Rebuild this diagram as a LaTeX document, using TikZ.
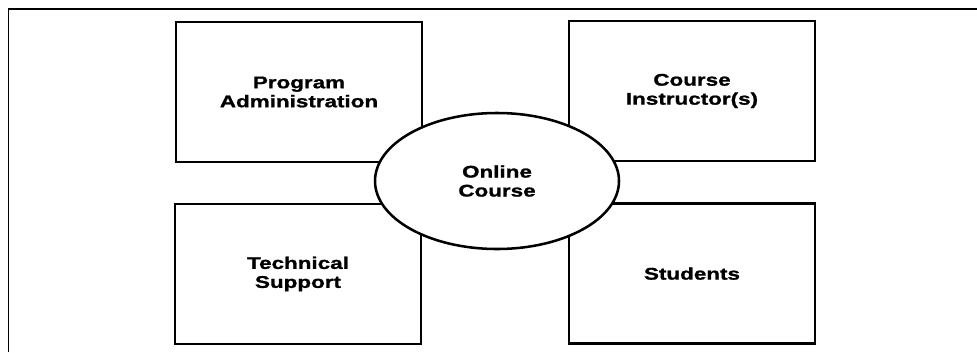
\documentclass[tikz,border=0pt]{standalone}
\usepackage{fontspec}
\usetikzlibrary{shapes.geometric}
\newfontfamily\partfont[FakeStretch=1.33,FakeBold=1.2]{Liberation Sans}

\begin{document}
\begin{tikzpicture}[
	part/.style={draw, line width=1.9pt, rectangle, minimum width=6.15cm, minimum height=3.5cm, inner sep=0pt, align=center, font=\partfont\bfseries\fontsize{12}{13.5}\selectfont},
	hub/.style={part, ellipse, fill=white, line width=1.8pt, minimum width=6.1cm, minimum height=3.4cm}]

	\useasboundingbox (0, 0) rectangle (24.425, -8.8);

	\coordinate (F1) at (0.2125, -8.8);
	\coordinate (F2) at (0.2125, -0.225);
	\coordinate (F3) at (24.425, -0.225);
	\draw [line width=1.2pt] (F1) -- (F2) -- (F3);

	\node (admin) at (7.475, -2.3) [part] {Program\\Administration};
	\node (instr) at (17.3, -2.275) [part] {Course\\Instructor(s)};
	\node (tech) at (7.45, -6.85) [part] {Technical\\Support};
	\node (stud) at (17.3, -6.84) [part] {Students};
	\node (course) at (12.425, -4.525) [hub] {Online\\Course};
\end{tikzpicture}
\end{document}
